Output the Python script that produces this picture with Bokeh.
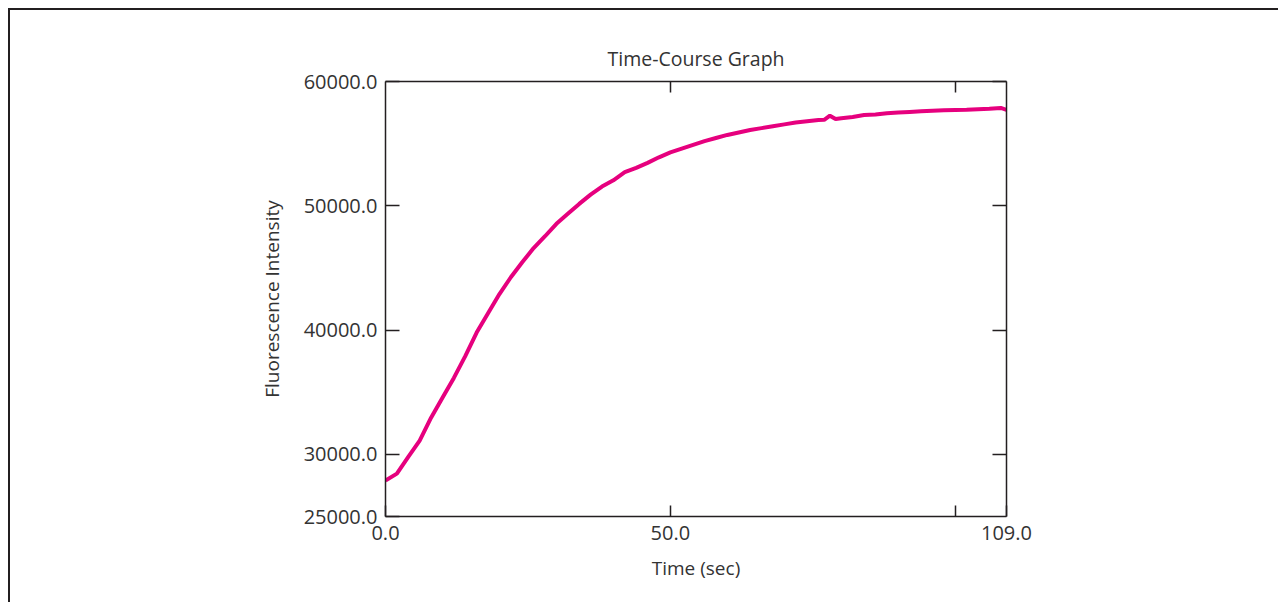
from bokeh.plotting import figure
from bokeh.models import LinearAxis, FixedTicker, NumeralTickFormatter, Range1d
from bokeh.embed import file_html
from bokeh.resources import INLINE

# Data
time_sec = [0, 2, 4, 6, 8, 10, 12, 14, 16, 18, 20, 22, 24, 26, 28, 30, 32, 34, 36, 38,
            40, 42, 44, 46, 48, 50, 52, 54, 56, 58, 60, 62, 64, 66, 68, 70, 72, 74, 76,
            77, 78, 79, 80, 82, 84, 86, 88, 90, 92, 94, 96, 98, 100, 102, 104, 106, 108, 109]
intensity = [27900, 28450, 29800, 31100, 32950, 34550, 36150, 37900, 39800, 41350,
             42900, 44250, 45450, 46600, 47550, 48550, 49350, 50150, 50900, 51550,
             52050, 52700, 53050, 53450, 53900, 54300, 54600, 54900, 55200, 55450,
             55700, 55900, 56100, 56250, 56400, 56550, 56700, 56800, 56900,
             56920, 57250, 56980, 57050, 57150, 57300, 57350, 57450, 57500, 57550,
             57600, 57650, 57680, 57700, 57720, 57760, 57800, 57870, 57720]

x_ticks = [0, 50, 100, 109]
y_ticks = [25000, 30000, 40000, 50000, 60000]
title_text = "Time-Course Graph"
x_label = "Time (sec)"
y_label = "Fluorescence Intensity"

FONT = "Open Sans"
DARK = "#231f20"
TXT = "#333333"

W, H = 1270, 594
FL, FT, FW, FH = 375, 71, 621, 435

p = figure(width=W, height=H, output_backend="svg", toolbar_location=None,
           x_range=Range1d(0, 109), y_range=Range1d(25000, 60000),
           min_border_left=FL, min_border_top=FT,
           min_border_right=W - FL - FW, min_border_bottom=H - FT - FH,
           x_axis_location=None, y_axis_location=None,
           styles={"border-top": "2px solid #231f20", "border-left": "2px solid #231f20",
                   "margin-left": "8px", "margin-top": "8px"})
p.grid.visible = False
p.outline_line_color = None
p.background_fill_color = "white"
p.border_fill_color = "white"

p.title.text = title_text
p.title.align = "center"
p.title.text_font = FONT
p.title.text_font_size = "19.5px"
p.title.text_font_style = "normal"
p.title.text_color = TXT
p.title.standoff = 20


def style_axis(ax, tick_in):
    ax.axis_line_color = DARK
    ax.axis_line_width = 1.5
    ax.major_tick_line_color = DARK
    ax.major_tick_line_width = 1.5
    ax.major_tick_in = tick_in
    ax.major_tick_out = 0
    ax.minor_tick_line_color = None
    ax.major_label_text_font = FONT
    ax.major_label_text_font_size = "20px"
    ax.major_label_text_color = TXT
    ax.axis_label_text_font = FONT
    ax.axis_label_text_font_size = "19px"
    ax.axis_label_text_font_style = "normal"
    ax.axis_label_text_color = TXT


left = LinearAxis(ticker=FixedTicker(ticks=y_ticks), formatter=NumeralTickFormatter(format="0.0"),
                  axis_label=y_label)
style_axis(left, 14)
left.major_label_standoff = 8
left.axis_label_standoff = 16
p.add_layout(left, "left")

right = LinearAxis(ticker=FixedTicker(ticks=y_ticks[1:]),
                   major_label_overrides={t: "" for t in y_ticks})
style_axis(right, 14)
p.add_layout(right, "right")

bottom = LinearAxis(ticker=FixedTicker(ticks=x_ticks), formatter=NumeralTickFormatter(format="0.0"),
                    major_label_overrides={100: ""}, axis_label=x_label)
style_axis(bottom, 11)
bottom.major_label_standoff = 9
bottom.axis_label_standoff = 12
p.add_layout(bottom, "below")

top = LinearAxis(ticker=FixedTicker(ticks=x_ticks[1:3]),
                 major_label_overrides={t: "" for t in x_ticks})
style_axis(top, 11)
top.major_label_standoff = 0
p.add_layout(top, "above")

p.line(time_sec, intensity, line_color="#e6007e", line_width=4)

open("out.html", "w").write(file_html(p, INLINE))
